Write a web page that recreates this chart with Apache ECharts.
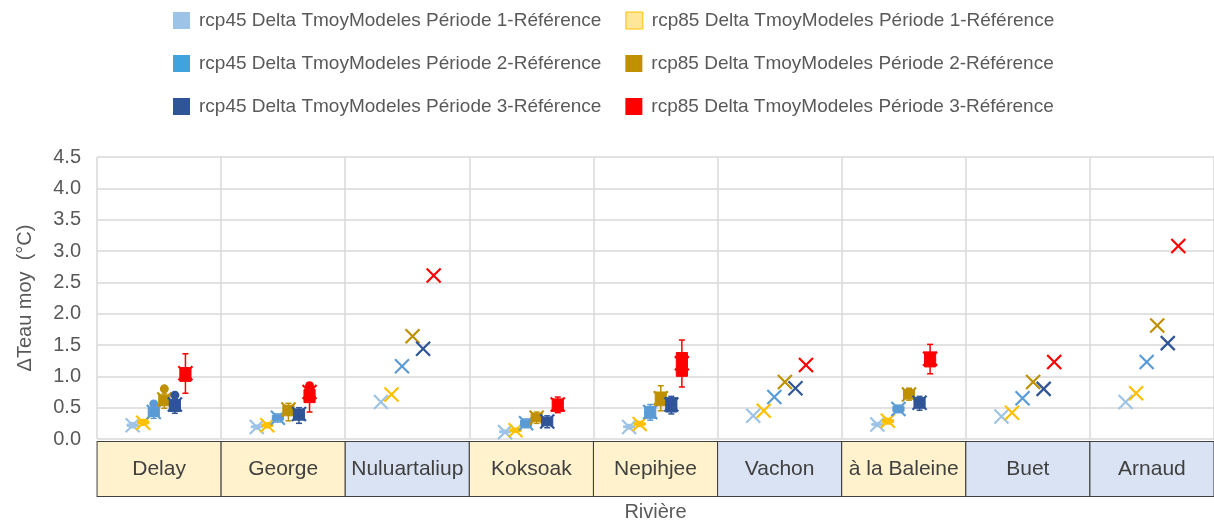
<!DOCTYPE html>
<html lang="fr">
<head>
<meta charset="UTF-8">
<title>ΔTeau moy par rivière</title>
<script src="https://cdn.jsdelivr.net/npm/echarts@6/dist/echarts.min.js"></script>
</head>
<body style="margin:0">
<div id="main" style="width:1214px;height:523px;"></div>
<script type="text/javascript">
// rivières et couleur de leur case (j = jaune, b = bleu)
var rivers = ['Delay', 'George', 'Nuluartaliup', 'Koksoak', 'Nepihjee', 'Vachon', 'à la Baleine', 'Buet', 'Arnaud'];
var riverCell = ['j', 'j', 'b', 'j', 'j', 'b', 'j', 'b', 'b'];

var seriesNames = [
    'rcp45 Delta TmoyModeles Période 1-Référence',
    'rcp85 Delta TmoyModeles Période 1-Référence',
    'rcp45 Delta TmoyModeles Période 2-Référence',
    'rcp85 Delta TmoyModeles Période 2-Référence',
    'rcp45 Delta TmoyModeles Période 3-Référence',
    'rcp85 Delta TmoyModeles Période 3-Référence'
];
var seriesColors = ['#9DC3E6', '#FFC000', '#5B9BD5', '#BF9000', '#2F5597', '#FF0000'];

// [min, Q1, médiane, Q3, max] par rivière
var rcp45P1Box = [[0.18,0.20,0.22,0.24,0.26],[0.16,0.18,0.19,0.21,0.22],[0.59,0.59,0.59,0.59,0.59],[0.09,0.10,0.11,0.13,0.14],[0.16,0.18,0.19,0.21,0.23],[0.37,0.37,0.37,0.37,0.37],[0.20,0.22,0.23,0.25,0.26],[0.36,0.36,0.36,0.36,0.36],[0.59,0.59,0.59,0.59,0.59]];
var rcp85P1Box = [[0.22,0.24,0.26,0.29,0.31],[0.18,0.20,0.22,0.24,0.26],[0.71,0.71,0.71,0.71,0.71],[0.11,0.12,0.14,0.16,0.17],[0.20,0.22,0.24,0.26,0.28],[0.45,0.45,0.45,0.45,0.45],[0.24,0.26,0.29,0.31,0.33],[0.42,0.42,0.42,0.42,0.42],[0.73,0.73,0.73,0.73,0.73]];
var rcp45P2Box = [[0.33,0.36,0.43,0.50,0.53],[0.27,0.30,0.34,0.38,0.40],[1.16,1.16,1.16,1.16,1.16],[0.18,0.20,0.25,0.30,0.32],[0.30,0.33,0.43,0.52,0.55],[0.67,0.67,0.67,0.67,0.67],[0.42,0.44,0.48,0.52,0.54],[0.65,0.65,0.65,0.65,0.65],[1.23,1.23,1.23,1.23,1.23]];
var rcp85P2Box = [[0.49,0.53,0.62,0.70,0.72],[0.29,0.37,0.46,0.54,0.57],[1.64,1.64,1.64,1.64,1.64],[0.25,0.28,0.34,0.41,0.43],[0.45,0.53,0.65,0.75,0.85],[0.91,0.91,0.91,0.91,0.91],[0.62,0.64,0.71,0.79,0.81],[0.91,0.91,0.91,0.91,0.91],[1.81,1.81,1.81,1.81,1.81]];
var rcp45P3Box = [[0.41,0.44,0.54,0.63,0.65],[0.25,0.30,0.39,0.48,0.50],[1.44,1.44,1.44,1.44,1.44],[0.18,0.21,0.28,0.35,0.37],[0.40,0.43,0.54,0.66,0.68],[0.81,0.81,0.81,0.81,0.81],[0.46,0.49,0.58,0.66,0.68],[0.80,0.80,0.80,0.80,0.80],[1.53,1.53,1.53,1.53,1.53]];
var rcp85P3Box = [[0.73,0.92,1.03,1.14,1.36],[0.43,0.58,0.70,0.79,0.81],[2.61,2.61,2.61,2.61,2.61],[0.42,0.44,0.54,0.64,0.67],[0.83,1.00,1.16,1.38,1.58],[1.18,1.18,1.18,1.18,1.18],[1.04,1.15,1.27,1.39,1.51],[1.23,1.23,1.23,1.23,1.23],[3.08,3.08,3.08,3.08,3.08]];

// moyennes (marqueur X)
var rcp45P1Mean = [0.22, 0.19, 0.59, 0.11, 0.19, 0.37, 0.23, 0.36, 0.59];
var rcp85P1Mean = [0.26, 0.22, 0.71, 0.14, 0.24, 0.45, 0.29, 0.42, 0.73];
var rcp45P2Mean = [0.43, 0.34, 1.16, 0.25, 0.43, 0.67, 0.48, 0.65, 1.23];
var rcp85P2Mean = [0.63, 0.47, 1.64, 0.34, 0.65, 0.91, 0.71, 0.91, 1.81];
var rcp45P3Mean = [0.55, 0.40, 1.44, 0.28, 0.55, 0.81, 0.58, 0.80, 1.53];
var rcp85P3Mean = [1.05, 0.75, 2.61, 0.55, 1.21, 1.18, 1.28, 1.23, 3.08];

// valeurs aberrantes (cercles)
var rcp45P1Out = [null, null, null, null, null, null, null, null, null];
var rcp85P1Out = [null, null, null, null, null, null, null, null, null];
var rcp45P2Out = [0.56, null, null, null, null, null, null, null, null];
var rcp85P2Out = [0.80, null, null, null, null, null, null, null, null];
var rcp45P3Out = [0.70, null, null, null, null, null, null, null, null];
var rcp85P3Out = [null, 0.85, null, null, null, null, null, null, null];

var allBox = [rcp45P1Box, rcp85P1Box, rcp45P2Box, rcp85P2Box, rcp45P3Box, rcp85P3Box];
var allMean = [rcp45P1Mean, rcp85P1Mean, rcp45P2Mean, rcp85P2Mean, rcp45P3Mean, rcp85P3Mean];
var allOut = [rcp45P1Out, rcp85P1Out, rcp45P2Out, rcp85P2Out, rcp45P3Out, rcp85P3Out];

var FONT = 'Liberation Sans, Arial, sans-serif';

function renderBox(params, api) {
    var cat = api.value(0);
    var si = params.seriesIndex;
    var band = api.size([1, 0])[0];
    var step = band * 0.085;
    var w = band * 0.09;
    var cx = api.coord([cat, 0])[0] + (si - 2.5) * step;
    var color = api.visual('color');
    var yOf = function (v) { return api.coord([cat, v])[1]; };
    var yMin = yOf(api.value(1)), yQ1 = yOf(api.value(2)), yMed = yOf(api.value(3)),
        yQ3 = yOf(api.value(4)), yMax = yOf(api.value(5)), yMean = yOf(api.value(6));
    var line = function (x1, y1, x2, y2, lw) {
        return {type: 'line', shape: {x1: x1, y1: y1, x2: x2, y2: y2},
            style: {stroke: color, lineWidth: lw || 1.5}};
    };
    var ch = [];
    if (yMin - yMax > 0.5) {
        ch.push(line(cx, yMax, cx, yMin));
        ch.push(line(cx - 3, yMax, cx + 3, yMax));
        ch.push(line(cx - 3, yMin, cx + 3, yMin));
        ch.push({type: 'rect', shape: {x: cx - w / 2, y: yQ3, width: w, height: yQ1 - yQ3},
            style: {fill: color, stroke: color, lineWidth: 1}});
        ch.push(line(cx - w / 2, yMed, cx + w / 2, yMed, 1));
    }
    var s = 7;
    ch.push(line(cx - s, yMean - s, cx + s, yMean + s, 2.2));
    ch.push(line(cx - s, yMean + s, cx + s, yMean - s, 2.2));
    var out = api.value(7);
    if (out != null && !isNaN(out)) {
        ch.push({type: 'circle', shape: {cx: cx, cy: yOf(out), r: 4.5}, style: {fill: color}});
    }
    return {type: 'group', children: ch};
}

var series = [];
for (var k = 0; k < 6; k++) {
    var rows = [];
    for (var i = 0; i < rivers.length; i++) {
        var b = allBox[k][i];
        rows.push([i, b[0], b[1], b[2], b[3], b[4], allMean[k][i], allOut[k][i]]);
    }
    series.push({
        name: seriesNames[k],
        type: 'custom',
        renderItem: renderBox,
        itemStyle: {color: seriesColors[k]},
        encode: {x: 0, y: [1, 2, 3, 4, 5, 6]},
        data: rows,
        z: 2 + k
    });
}

var legendData = seriesNames.map(function (n, k) {
    var item = {name: n};
    if (k === 1) item.itemStyle = {color: '#FFE699', borderColor: '#FFC000', borderWidth: 1};
    if (k === 2) item.itemStyle = {color: '#3FA3E0'};
    return item;
});

var myChart = echarts.init(document.getElementById('main'));
var option = {
    backgroundColor: '#ffffff',
    animation: false,
    textStyle: {fontFamily: FONT},
    legend: {
        data: legendData,
        left: 173,
        top: 11,
        padding: 0,
        width: 900,
        icon: 'rect',
        itemWidth: 17,
        itemHeight: 17,
        itemGap: 24,
        textStyle: {fontSize: 19, color: '#595959', fontFamily: FONT, padding: [0, 0, 0, 4]}
    },
    grid: {left: 97, right: 0, top: 157, bottom: 84, containLabel: false, outerBoundsMode: 'none'},
    xAxis: {
        type: 'category',
        data: rivers,
        name: 'Rivière',
        nameLocation: 'middle',
        nameGap: 63,
        nameTextStyle: {fontSize: 20, color: '#595959', fontFamily: FONT},
        axisLine: {show: false},
        axisTick: {show: false},
        splitLine: {show: true, interval: 0, lineStyle: {color: '#D9D9D9', width: 1.5}},
        axisLabel: {
            interval: 0,
            margin: 3,
            formatter: function (v, i) { return '{' + riverCell[i] + '|' + v + '}'; },
            rich: {
                j: {width: 123, height: 54, lineHeight: 54, align: 'center', backgroundColor: '#FFF2CC',
                    borderColor: '#404040', borderWidth: 1, fontSize: 21, color: '#404040', fontFamily: FONT},
                b: {width: 123, height: 54, lineHeight: 54, align: 'center', backgroundColor: '#DAE3F3',
                    borderColor: '#404040', borderWidth: 1, fontSize: 21, color: '#404040', fontFamily: FONT}
            }
        }
    },
    yAxis: {
        type: 'value',
        min: 0,
        max: 4.5,
        interval: 0.5,
        name: 'ΔTeau moy  (°C)',
        nameLocation: 'middle',
        nameGap: 62,
        nameTextStyle: {fontSize: 20, color: '#595959', fontFamily: FONT},
        axisLabel: {
            fontSize: 20, color: '#595959', margin: 16, fontFamily: FONT,
            formatter: function (v) { return v.toFixed(1); }
        },
        splitLine: {lineStyle: {color: '#D9D9D9', width: 1.5}}
    },
    series: series
};
myChart.setOption(option);
</script>
</body>
</html>
